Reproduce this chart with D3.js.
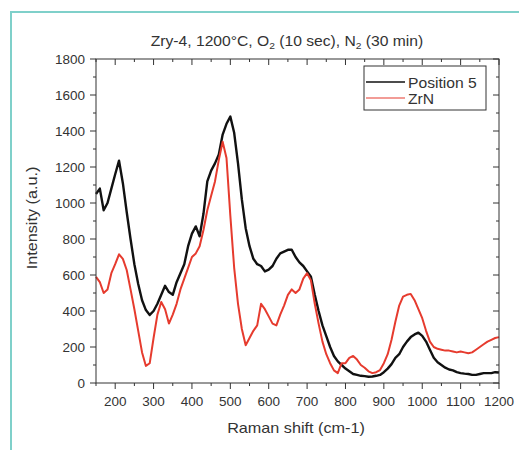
<!DOCTYPE html>
<html><head><meta charset="utf-8">
<script src="https://cdn.jsdelivr.net/npm/d3@7"></script>
<style>body{margin:0;background:#fff}svg{display:block}text{font-family:"Liberation Sans",Arial,sans-serif;fill:#333}</style>
</head><body>
<svg id="c" width="519" height="450"></svg>
<script>
const ramanShift = d3.range(150, 1201, 10);
const position5 = [1050,1080,960,1000,1080,1160,1235,1110,950,800,660,550,460,405,378,400,440,490,540,505,490,560,610,660,760,830,870,815,940,1120,1180,1220,1270,1380,1440,1480,1390,1220,1020,860,760,690,660,650,620,630,650,690,720,730,740,740,700,670,650,620,590,490,400,320,260,200,150,120,100,80,65,50,45,40,38,35,36,40,45,60,80,105,140,160,200,230,255,270,280,262,230,185,140,115,100,85,75,70,60,55,52,50,45,45,50,55,55,55,60,58];
const zrN = [590,560,500,520,610,660,715,690,628,520,410,290,170,95,110,250,380,450,410,330,380,440,520,580,640,700,720,760,850,960,1040,1120,1240,1340,1250,930,640,440,300,210,250,290,320,440,410,370,330,320,380,430,490,520,500,520,580,610,570,440,330,230,160,110,70,55,110,110,140,150,130,100,85,65,55,60,72,110,160,240,340,430,480,490,495,460,410,360,290,230,200,190,185,180,180,175,170,175,170,165,170,185,200,215,230,240,250,255];
const seriesNames = ["Position 5", "ZrN"];
const xTicks = [200,300,400,500,600,700,800,900,1000,1100,1200];
const yTicks = [0,200,400,600,800,1000,1200,1400,1600,1800];

const svg = d3.select("#c");
const L=96, R=499, T=59, B=383;
const x = d3.scaleLinear().domain([150,1200]).range([L,R]);
const y = d3.scaleLinear().domain([0,1800]).range([B,T]);
const SX = 1.08;
function txt(px, py, size, anchor, rot){
  return svg.append("text")
    .attr("transform", `translate(${px},${py})` + (rot?` rotate(${rot})`:"") + ` scale(${SX},1)`)
    .attr("text-anchor", anchor).attr("font-size", size);
}

// outer teal frame
svg.append("path").attr("d",`M11,450 L11,12 L519,12`).attr("fill","none").attr("stroke","#7fd0ca").attr("stroke-width",2);

// title
const title = txt(287, 46, 14.5, "middle");
title.append("tspan").text("Zry-4, 1200°C, O");
title.append("tspan").attr("font-size",9.5).attr("dy",3).text("2");
title.append("tspan").attr("dy",-3).text(" (10 sec), N");
title.append("tspan").attr("font-size",9.5).attr("dy",3).text("2");
title.append("tspan").attr("dy",-3).text(" (30 min)");

// lines
const line = d3.line().x((d,i)=>x(ramanShift[i])).y(d=>y(d));
svg.append("path").datum(position5).attr("d",line).attr("fill","none").attr("stroke","#111").attr("stroke-width",2.4).attr("stroke-linejoin","round");
svg.append("path").datum(zrN).attr("d",line).attr("fill","none").attr("stroke","#e63b2e").attr("stroke-width",2).attr("stroke-linejoin","round");

// axes
const xMinor = d3.range(150,1201,50);
const yMinor = d3.range(0,1801,100);
const ax = svg.append("g").attr("stroke","#333").attr("stroke-width",1);
ax.append("rect").attr("x",L).attr("y",T).attr("width",R-L).attr("height",B-T).attr("fill","none");
xMinor.forEach(v=>{
  const major = xTicks.includes(v);
  const len = major?6:3;
  ax.append("line").attr("x1",x(v)).attr("x2",x(v)).attr("y1",B).attr("y2",B+len);
  ax.append("line").attr("x1",x(v)).attr("x2",x(v)).attr("y1",T).attr("y2",T+len);
});
yMinor.forEach(v=>{
  const major = yTicks.includes(v);
  const len = major?6:3;
  ax.append("line").attr("y1",y(v)).attr("y2",y(v)).attr("x1",L).attr("x2",L-len);
  ax.append("line").attr("y1",y(v)).attr("y2",y(v)).attr("x1",R).attr("x2",R-len);
});
xTicks.forEach(v=>txt(x(v),406,12.5,"middle").text(v));
yTicks.forEach(v=>txt(85,y(v)+4.5,12.5,"end").text(v));

txt(296,433,15,"middle").text("Raman shift (cm-1)");
txt(37,218,15,"middle",-90).text("Intensity (a.u.)");

// legend
const lg = svg.append("g");
lg.append("rect").attr("x",364).attr("y",66).attr("width",122).attr("height",44).attr("fill","#fff").attr("stroke","#333").attr("stroke-width",1);
const colors = ["#111","#e63b2e"];
seriesNames.forEach((n,i)=>{
  const yy = 82 + i*16;
  lg.append("line").attr("x1",366).attr("x2",405).attr("y1",yy).attr("y2",yy).attr("stroke",colors[i]).attr("stroke-width",i?1.2:1.6);
  txt(408,yy+5.5,14.5,"start").text(n);
});
</script>
</body></html>
